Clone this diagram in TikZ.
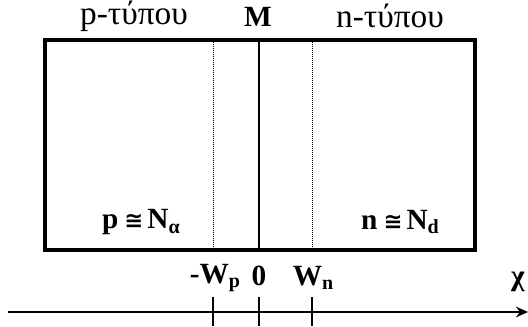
\documentclass[tikz,border=0pt]{standalone}
\usepackage{fontspec}
\setmainfont{Liberation Serif}
\newfontfamily\symfont{DejaVu Sans}
\usetikzlibrary{positioning,arrows.meta}
\newcommand{\lowidx}[1]{\raisebox{-0.35ex}{\fontsize{15}{15}\selectfont #1}}
\newcommand{\approxeq}{\hspace{4.5pt}{\symfont\fontsize{17}{19}\selectfont ≅}\hspace{3pt}}

\begin{document}
\begin{tikzpicture}[x=0.75pt,y=-0.75pt,font=\fontsize{25}{27}\selectfont,inner sep=0pt]
\tikzset{boldlabel/.style={font=\fontsize{22}{24}\selectfont\bfseries}}
\useasboundingbox (0,0) rectangle (528,326);
% junction box
\coordinate (tl) at (45,40);
\coordinate (br) at (475,250);
\coordinate (mtop) at (259,40);
\coordinate (mbot) at (259,250);
\coordinate (wptop) at (213,40);
\coordinate (wpbot) at (213,250);
\coordinate (wntop) at (312,40);
\coordinate (wnbot) at (312,250);
\draw[line width=2.4pt] (tl) rectangle (br);
\draw[line width=1.3pt] (mtop)--(mbot);
\draw[line width=0.7pt,dash pattern=on 0.75pt off 0.75pt] (wptop)--(wpbot);
\draw[line width=0.7pt,dash pattern=on 0.75pt off 0.75pt] (wntop)--(wnbot);
\node (ptype) at (134,16) {p-τύπου};
\node[boldlabel] (metal) at (258,17) {M};
\node (ntype) at (390,16) {n-τύπου};
\node[boldlabel] (pdop) at (141,222) {p\approxeq N\lowidx{α}};
\node[boldlabel] (ndop) at (400,222) {n\approxeq N\lowidx{d}};
% x axis
\coordinate (axstart) at (8,312);
\coordinate (axend) at (528,312);
\draw[line width=1.5pt,-{Stealth[length=9pt,width=8pt]}] (axstart)--(axend);
\node[boldlabel] (chi) at (518,282) {χ};
\draw[line width=1.1pt] (213,297)--(213,326);
\draw[line width=1.1pt] (259,297)--(259,326);
\draw[line width=1.1pt] (312,297)--(312,326);
\node[boldlabel] (wp) at (215,278) {-W\lowidx{p}};
\node[boldlabel] (zero) at (259,276) {0};
\node[boldlabel] (wn) at (313,278) {W\lowidx{n}};
\end{tikzpicture}
\end{document}
